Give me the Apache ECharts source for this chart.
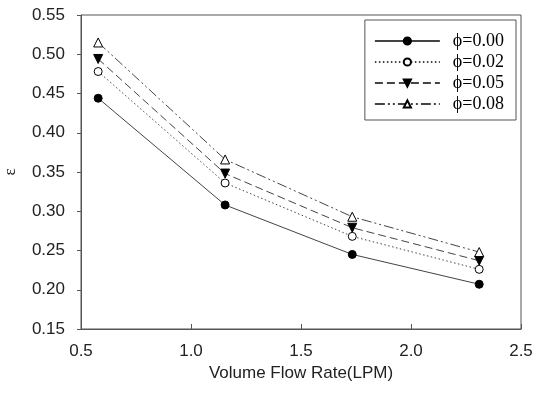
<!DOCTYPE html>
<html><head><meta charset="utf-8">
<script src="https://cdn.jsdelivr.net/npm/echarts@6/dist/echarts.min.js"></script>
<style>html,body{margin:0;padding:0;background:#fff}#c{width:542px;height:393px}</style>
</head><body><div id="c"></div>
<script>
const flowRates = [0.578, 1.155, 1.733, 2.31];
const seriesNames = ['ϕ=0.00', 'ϕ=0.02', 'ϕ=0.05', 'ϕ=0.08'];
const phi000 = [0.444, 0.308, 0.245, 0.207];
const phi002 = [0.478, 0.336, 0.268, 0.226];
const phi005 = [0.494, 0.348, 0.279, 0.237];
const phi008 = [0.515, 0.366, 0.293, 0.248];
const yTicks = [0.15, 0.55, 0.05];
const xTicks = [0.5, 2.5, 0.5];

const values = [phi000, phi002, phi005, phi008];
const styles = [
  {symbol:'circle', size:8, fill:'#000', type:'solid', rotate:0},
  {symbol:'circle', size:8, fill:'#fff', type:[1.5,2.5], rotate:0},
  {symbol:'triangle', size:9, fill:'#000', type:[8,4], rotate:180},
  {symbol:'triangle', size:9, fill:'#fff', type:[10,3,2,3,2,3], rotate:0}
];
const chart = echarts.init(document.getElementById('c'));
chart.setOption({
  animation:false,
  backgroundColor:'#fff',
  grid:{left:81,right:21,top:15,bottom:64,show:true,borderColor:'#555',borderWidth:1,backgroundColor:'transparent',outerBoundsMode:'none',containLabel:false},
  legend:{
    orient:'vertical', right:26, top:20, padding:[12,12,7,9],
    borderColor:'#555', borderWidth:1, itemWidth:65, itemHeight:9, itemGap:3,
    textStyle:{fontFamily:'Liberation Serif', fontSize:18, color:'#000', padding:[0,0,0,8]},
    data:seriesNames
  },
  xAxis:{
    type:'value', min:xTicks[0], max:xTicks[1], interval:xTicks[2],
    name:'Volume Flow Rate(LPM)', nameLocation:'middle', nameGap:36,
    nameTextStyle:{fontFamily:'Liberation Sans', fontSize:17, color:'#222'},
    axisLine:{lineStyle:{color:'#555'}},
    axisTick:{inside:true, length:5, lineStyle:{color:'#555'}},
    axisLabel:{fontFamily:'Liberation Sans', fontSize:17, color:'#222', margin:14, formatter:v=>v.toFixed(1)},
    splitLine:{show:false}
  },
  yAxis:{
    type:'value', min:yTicks[0], max:yTicks[1], interval:yTicks[2],
    name:'ε', nameLocation:'middle', nameGap:62, nameRotate:90,
    nameTextStyle:{fontFamily:'Liberation Serif', fontSize:17, color:'#222'},
    axisLine:{lineStyle:{color:'#555'}},
    axisTick:{length:4, lineStyle:{color:'#555'}},
    axisLabel:{fontFamily:'Liberation Sans', fontSize:17, color:'#222', margin:16, formatter:v=>v.toFixed(2)},
    splitLine:{show:false}
  },
  series: values.map((vals,i)=>({
    name:seriesNames[i], type:'line',
    data: flowRates.map((x,j)=>[x, vals[j]]),
    symbol:styles[i].symbol, symbolSize:styles[i].size, symbolRotate:styles[i].rotate,
    showAllSymbol:true,
    itemStyle:{color:styles[i].fill, borderColor:'#000', borderWidth:1},
    lineStyle:{color:'#444', width:1, type:styles[i].type}
  }))
});
</script></body></html>
